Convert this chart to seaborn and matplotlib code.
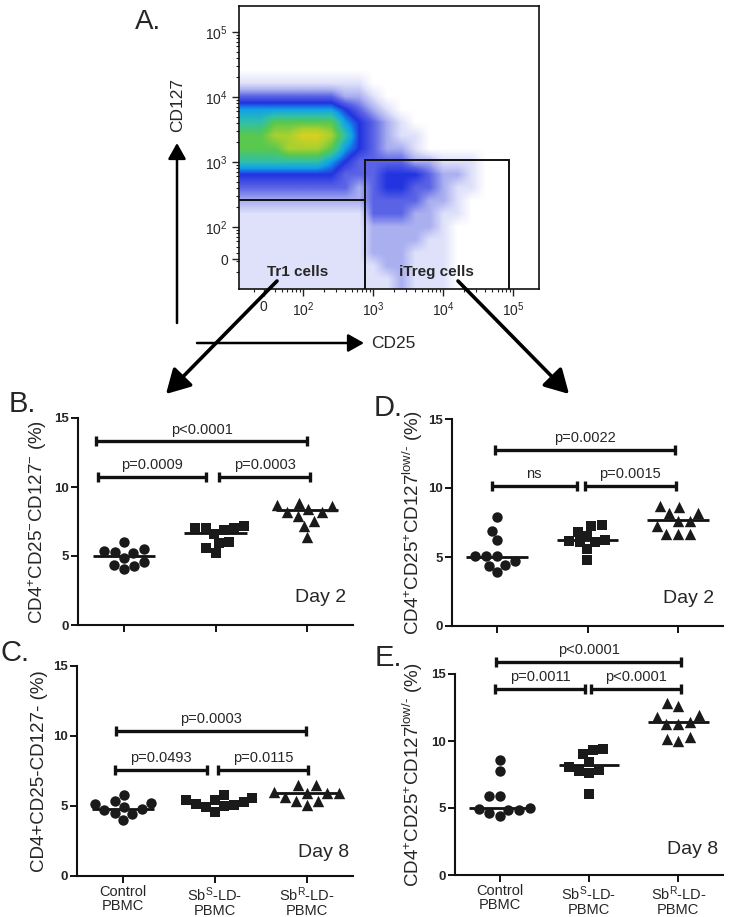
import numpy as np
import pandas as pd
import matplotlib
matplotlib.use('Agg')
import matplotlib.pyplot as plt
from matplotlib.colors import LinearSegmentedColormap
from matplotlib.patches import Rectangle, FancyArrowPatch
import seaborn as sns

# ---- data ----
# panel A: rough density of the CD25 / CD127 dot plot (0 = empty, 9 = peak),
# 0.2-decade cells, rows from top (5.5) to bottom (0.9), cols from 1.1 to 5.5
density_rows = [
    "0000000000000000000000",
    "0000000000000000000000",
    "0000000000000000000000",
    "0000000000000000000000",
    "0000000000000000000000",
    "0000000000000000000000",
    "1111111110000000000000",
    "3333333221000000000000",
    "5555555432100000000000",
    "6677777543210000000000",
    "7788998643211000000000",
    "7778887543221000000000",
    "6666665433332211100000",
    "4444444333444322100000",
    "3333333323443321100000",
    "2222222223333221000000",
    "1111111113332211000000",
    "1111111112222210000000",
    "1111111112222110000000",
    "1111111112221110000000",
    "1111111111221110000000",
    "1111111111121110000000",
    "1111111111121110000000",
]
a_xticks = [1.44, 2, 3, 4, 5]
a_xticklabels = ['0', '$10^{2}$', '$10^{3}$', '$10^{4}$', '$10^{5}$']
a_yticks = [1.5, 2, 3, 4, 5]
a_yticklabels = ['0', '$10^{2}$', '$10^{3}$', '$10^{4}$', '$10^{5}$']
tr1_gate = (2.886, 2.415)      # right, top
itreg_gate = (2.886, 4.94, 3.03)  # left, right, top

groups = ['Control', 'SbS', 'SbR']
group_labels = ['Control\nPBMC', 'Sb$^{\\mathrm{S}}$-LD-\nPBMC', 'Sb$^{\\mathrm{R}}$-LD-\nPBMC']

# B: Tr1, day 2
b_ctrl = [5.49, 5.29, 5.24, 5.37, 5.98, 4.88, 4.32, 4.07, 4.27, 4.56]
b_sbs = [7.02, 7.20, 6.90, 6.59, 7.02, 7.02, 5.93, 5.24, 5.61, 6.02]
b_sbr = [8.22, 8.85, 8.63, 8.66, 8.37, 7.93, 7.56, 7.20, 6.41, 8.22]
b_med = [5.0, 6.7, 8.3]
b_pvals = [('p<0.0001', -0.30, 2.00, 13.3), ('p=0.0009', -0.28, 0.90, 10.75), ('p=0.0003', 1.04, 2.03, 10.75)]

# D: iTreg, day 2
d_ctrl = [7.89, 6.92, 6.26, 5.10, 5.10, 5.10, 4.68, 4.37, 4.44, 3.88]
d_sbs = [7.31, 7.23, 6.19, 6.07, 6.82, 6.55, 6.07, 6.26, 5.58, 4.81]
d_sbr = [8.20, 8.64, 8.69, 8.16, 7.60, 7.60, 7.23, 6.70, 6.70, 6.70]
d_med = [5.0, 6.2, 7.65]
d_pvals = [('p=0.0022', -0.02, 1.97, 12.75), ('ns', -0.06, 0.88, 10.17), ('p=0.0015', 0.97, 1.98, 10.17)]

# C: Tr1, day 8
c_ctrl = [4.74, 5.36, 5.21, 5.12, 5.76, 4.76, 4.52, 4.02, 4.40, 4.93]
c_sbs = [5.76, 5.40, 4.98, 5.45, 4.57, 5.60, 4.93, 5.05, 5.29, 5.17]
c_sbr = [6.48, 6.00, 5.93, 5.93, 5.93, 6.48, 5.64, 5.36, 5.05, 5.36]
c_med = [4.81, 5.24, 5.93]
c_pvals = [('p=0.0003', -0.08, 1.99, 10.36), ('p=0.0493', -0.09, 0.91, 7.57), ('p=0.0115', 1.03, 2.01, 7.57)]

# E: iTreg, day 8
e_ctrl = [8.59, 7.75, 5.89, 5.87, 5.02, 4.88, 4.88, 4.95, 4.41, 4.63]
e_sbs = [9.33, 9.41, 9.03, 8.04, 8.42, 7.85, 7.60, 7.75, 6.06]
e_sbr = [12.62, 12.87, 11.81, 11.96, 11.26, 11.26, 11.39, 10.32, 10.02, 10.15]
e_med = [5.02, 8.22, 11.39]
e_pvals = [('p<0.0001', -0.04, 2.03, 15.9), ('p=0.0011', -0.05, 0.96, 13.9), ('p<0.0001', 1.02, 2.03, 13.9)]

# ---- style ----
sns.set_theme(style='ticks')
plt.rcParams['font.family'] = ['Liberation Sans', 'DejaVu Sans']
plt.rcParams['mathtext.fontset'] = 'custom'
plt.rcParams['mathtext.rm'] = 'Liberation Sans'
plt.rcParams['mathtext.it'] = 'Liberation Sans:italic'
plt.rcParams['mathtext.bf'] = 'Liberation Sans:bold'

W, H = 729, 917
fig = plt.figure(figsize=(W / 100, H / 100), dpi=100)


def px(x, y):
    return (x / W, 1 - y / H)


def box(l, t, r, b):
    return [l / W, 1 - b / H, (r - l) / W, (b - t) / H]


# ---- panel A ----
axA = fig.add_axes(box(239, 6, 539, 289))
grid = np.array([[int(c) for c in row] for row in density_rows], dtype=float)
cmap = LinearSegmentedColormap.from_list('flow', [
    '#ffffff', '#dfe1fa', '#a9aef0', '#5a63e6', '#2233e0',
    '#10a0ea', '#30c0a8', '#58c850', '#a8d030', '#d8d020'])
axA.imshow(grid, extent=(1.1, 5.5, 0.9, 5.5), origin='upper', cmap=cmap,
           vmin=0, vmax=9, interpolation='bilinear', aspect='auto')
axA.set_xlim(1.086, 5.37)
axA.set_ylim(1.046, 5.4)
axA.add_patch(Rectangle((1.0, 1.0), tr1_gate[0] - 1.0, tr1_gate[1] - 1.0,
                        fill=False, ec='#111111', lw=1.4))
axA.add_patch(Rectangle((itreg_gate[0], 1.0), itreg_gate[1] - itreg_gate[0], itreg_gate[2] - 1.0,
                        fill=False, ec='#111111', lw=1.4))
axA.text(1.93, 1.31, 'Tr1 cells', ha='center', va='center', fontsize=11, fontweight='bold')
axA.text(3.91, 1.31, 'iTreg cells', ha='center', va='center', fontsize=11, fontweight='bold')
axA.set_xticks(a_xticks, a_xticklabels, fontsize=10)
axA.set_yticks(a_yticks, a_yticklabels, fontsize=10)
minors = [d + np.log10(k) for d in (1, 2, 3, 4) for k in range(2, 10)]
axA.set_xticks([m for m in minors if 1.1 < m < 5.35], minor=True)
axA.set_yticks([m for m in minors if 1.06 < m < 5.38], minor=True)
axA.tick_params(which='major', direction='out', length=5, width=1, color='#222222', pad=3)
axA.tick_params(which='minor', direction='out', length=2.5, width=0.8, color='#222222')
axA.grid(False)
for s in axA.spines.values():
    s.set_linewidth(1.2)
    s.set_color('#111111')

fig.text(*px(148, 22), 'A.', fontsize=20, ha='center', va='center')
fig.text(*px(178, 105), 'CD127', rotation=90, fontsize=12.5, ha='center', va='center')
fig.text(*px(371, 343), 'CD25', fontsize=12.5, ha='left', va='center')

for a, b, lw, ms in [((177, 323), (177, 143), 1.8, 12),
                     ((197, 343), (364, 343), 1.8, 12),
                     ((277, 281), (166, 394), 2.6, 18),
                     ((458, 281), (569, 394), 2.6, 18)]:
    fig.add_artist(FancyArrowPatch(px(*a), px(*b), transform=fig.transFigure,
                                   arrowstyle='-|>,head_length=0.8,head_width=0.45',
                                   mutation_scale=ms, lw=lw, color='black', shrinkA=0, shrinkB=0))


# ---- dot plots ----
def dot_panel(ax, vals, med, pvals, ylabel, label_x, day, day_xy, bottom):
    df = pd.DataFrame({'group': np.repeat(groups, [len(v) for v in vals]),
                       'value': np.concatenate(vals)})
    for g, m, sz in zip(groups, ['o', 's', '^'], [7.5, 7.2, 8.2]):
        sns.swarmplot(data=df[df['group'] == g], x='group', y='value', order=groups,
                      marker=m, size=sz, color='#1a1a1a', linewidth=0, ax=ax)
    pos = np.arange(len(groups))
    ax.hlines(med, pos - 0.34, pos + 0.34, color='#111111', lw=2)
    cap = 0.36
    for text, x0, x1, y in pvals:
        ax.hlines(y, x0, x1, color='#111111', lw=2.4, clip_on=False)
        ax.vlines([x0, x1], y - cap, y + cap, color='#111111', lw=2.4, clip_on=False)
        ax.annotate(text, ((x0 + x1) / 2, y), xytext=(0, 3.5), textcoords='offset points',
                    ha='center', va='bottom', fontsize=10.5, annotation_clip=False)
    ax.set_xlim(-0.5, 2.5)
    ax.set_ylim(0, 15)
    ax.set_yticks([0, 5, 10, 15], ['0', '5', '10', '15'], fontsize=9.5, fontweight='bold')
    ax.set_xticks(pos)
    if bottom:
        ax.set_xticklabels(group_labels, fontsize=10.5, linespacing=1.0)
    else:
        ax.set_xticklabels([])
    ax.set_xlabel('')
    ax.set_ylabel(ylabel, fontsize=13.5)
    ax.yaxis.set_label_coords(label_x, 0.5)
    ax.tick_params(direction='out', length=5, width=1.4, color='#111111', pad=1.5)
    sns.despine(ax=ax)
    for s in ('left', 'bottom'):
        ax.spines[s].set_linewidth(1.5)
        ax.spines[s].set_color('#111111')
    ax.text(day_xy[0], day_xy[1], day, ha='right', va='center', fontsize=14)


ylab_tr1 = 'CD4$^{+}$CD25$^{-}$CD127$^{-}$ (%)'
ylab_itreg = 'CD4$^{+}$CD25$^{+}$CD127$^{\\text{low/-}}$ (%)'

axB = fig.add_axes(box(78, 418, 353, 625))
dot_panel(axB, [b_ctrl, b_sbs, b_sbr], b_med, b_pvals, ylab_tr1, -0.105, 'Day 2', (2.42, 2.0), False)
axD = fig.add_axes(box(452, 419, 723, 626))
dot_panel(axD, [d_ctrl, d_sbs, d_sbr], d_med, d_pvals, ylab_itreg, -0.10, 'Day 2', (2.4, 2.0), False)
axC = fig.add_axes(box(77, 666, 353, 876))
dot_panel(axC, [c_ctrl, c_sbs, c_sbr], c_med, c_pvals, 'CD4+CD25-CD127- (%)', -0.105, 'Day 8', (2.46, 1.7), True)
axE = fig.add_axes(box(455, 674, 723, 875))
dot_panel(axE, [e_ctrl, e_sbs, e_sbr], e_med, e_pvals, ylab_itreg, -0.112, 'Day 8', (2.44, 1.87), True)

for lab, xy in [('B.', (22, 404)), ('D.', (388, 408)), ('C.', (15, 653)), ('E.', (388, 658))]:
    fig.text(*px(*xy), lab, fontsize=21, ha='center', va='center')

fig.savefig('out.png', dpi=100)
